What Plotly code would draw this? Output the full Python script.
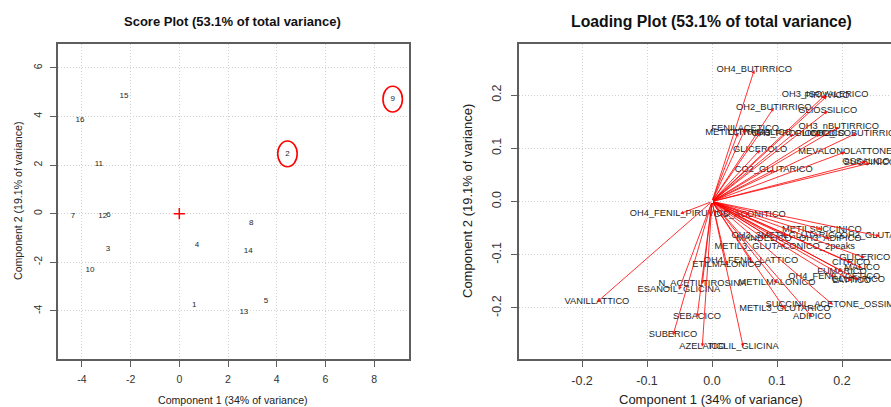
import plotly.graph_objects as go

# ---------------- data ----------------
score_labels = [str(i) for i in range(1, 17)]
score_pc1 = [0.61, 4.44, -2.93, 0.73, 3.56, -2.91, -4.37, 2.95, 8.76, -3.67, -3.30, -3.14, 2.65, 2.83, -2.27, -4.08]
score_pc2 = [-3.74, 2.46, -1.45, -1.28, -3.60, -0.06, -0.10, -0.38, 4.71, -2.30, 2.05, -0.11, -4.03, -1.55, 4.84, 3.85]
highlighted = ["2", "9"]

load_names = [
    "OH4_BUTIRRICO", "OH3_ISOVALERICO", "PIRUVICO", "OH2_BUTIRRICO", "GLIOSSILICO",
    "OH3_nBUTIRRICO", "FENILACETICO", "METILCITRICO", "CITRAMALICO", "OH3_PROPIONICO",
    "GLICOLICO", "OH2_ISOBUTIRRICO", "GLICEROLO", "MEVALONOLATTONE", "SUCCINICO",
    "OSSALICO", "CO2_GLUTARICO", "OH4_FENIL_PIRUVICO", "CIS_ACONITICO", "METILSUCCINICO",
    "OH3_3METILGLUTARICO", "MANDELICO", "OH3_ADIPICO", "OH2_GLUTARICO",
    "METIL3_GLUTACONICO_2peaks", "OH4_FENIL_LATTICO", "ETILMALONICO", "GLICERICO",
    "CITRICO", "MALICO", "FUMARICO", "OH4_FENILACETICO", "GLUTARICO", "LATTICO",
    "METILMALONICO", "N_ACETILTIROSINA", "ESANOIL_GLICINA", "VANILLATTICO",
    "SUCCINIL_ACETONE_OSSIMA", "METIL3_GLUTARICO", "ADIPICO", "SEBACICO", "SUBERICO",
    "AZELAICO", "TIGLIL_GLICINA",
]
load_pc1 = [
    0.065, 0.174, 0.177, 0.095, 0.178,
    0.195, 0.051, 0.040, 0.074, 0.125,
    0.166, 0.222, 0.074, 0.205, 0.243,
    0.237, 0.095, -0.049, 0.058, 0.169,
    0.115, 0.080, 0.182, 0.258,
    0.112, 0.060, 0.023, 0.235,
    0.214, 0.231, 0.200, 0.188, 0.225, 0.215,
    0.100, -0.015, -0.051, -0.177,
    0.186, 0.112, 0.154, -0.023, -0.060,
    -0.015, 0.048,
]
load_pc2 = [
    0.247, 0.200, 0.198, 0.176, 0.170,
    0.140, 0.136, 0.129, 0.129, 0.127,
    0.127, 0.128, 0.097, 0.093, 0.072,
    0.075, 0.059, -0.023, -0.025, -0.052,
    -0.065, -0.070, -0.070, -0.065,
    -0.085, -0.112, -0.119, -0.106,
    -0.115, -0.125, -0.131, -0.142, -0.147, -0.149,
    -0.153, -0.155, -0.166, -0.189,
    -0.194, -0.202, -0.217, -0.217, -0.251,
    -0.273, -0.273,
]

score_xticks = [-4, -2, 0, 2, 4, 6, 8]
score_yticks = [-4, -2, 0, 2, 4, 6]
load_xticks = [-0.2, -0.1, 0.0, 0.1, 0.2]
load_yticks = [-0.2, -0.1, 0.0, 0.1, 0.2]

FONT = "Liberation Sans, Arial, Helvetica, sans-serif"
W, H = 891, 407
TXT = "#1e1e1e"


def px_x(p):
    return p / W


def px_y(p):
    return 1 - p / H


fig = go.Figure()

# score plot labels
fig.add_trace(go.Scatter(
    x=score_pc1, y=score_pc2, text=score_labels, mode="text",
    textposition="middle center", textfont=dict(family=FONT, size=8, color=TXT),
    xaxis="x", yaxis="y", showlegend=False, hoverinfo="skip"))
# origin cross
fig.add_trace(go.Scatter(
    x=[0], y=[0], mode="markers", xaxis="x", yaxis="y", showlegend=False,
    marker=dict(symbol="cross-thin", size=8, line=dict(color="red", width=1.5))))

# loading labels
fig.add_trace(go.Scatter(
    x=load_pc1, y=load_pc2, text=load_names, mode="text",
    textposition="middle center", textfont=dict(family=FONT, size=9.3, color=TXT),
    xaxis="x2", yaxis="y2", showlegend=False, hoverinfo="skip", cliponaxis=False))

shapes = []
for lab in highlighted:
    i = score_labels.index(lab)
    cx, cy = score_pc1[i], score_pc2[i]
    shapes.append(dict(type="circle", xref="x", yref="y",
                       x0=cx - 0.40, x1=cx + 0.40, y0=cy - 0.53, y1=cy + 0.53,
                       line=dict(color="red", width=1.6)))

annotations = []
for xx, yy in zip(load_pc1, load_pc2):
    annotations.append(dict(
        x=xx, y=yy, ax=0, ay=0, xref="x2", yref="y2", axref="x2", ayref="y2",
        text="", showarrow=True, arrowhead=2, arrowsize=0.8, arrowwidth=0.9,
        arrowcolor="rgba(255,0,0,0.9)", standoff=0, startstandoff=0))


def ann(text, x, y, size, bold=False, angle=0):
    annotations.append(dict(
        text=f"<b>{text}</b>" if bold else text, x=px_x(x), y=px_y(y),
        xref="paper", yref="paper", showarrow=False, xanchor="center",
        yanchor="middle", textangle=angle,
        font=dict(family=FONT, size=size, color="#111" if bold else "#222")))


ann("Score Plot (53.1% of total variance)", 233, 21, 13, bold=True)
ann("Loading Plot (53.1% of total variance)", 711, 21, 15.8, bold=True)
ann("Component 1 (34% of variance)", 233, 400, 10.6)
ann("Component 1 (34% of variance)", 711, 399.5, 13)
ann("Component 2 (19.1% of variance)", 18, 201, 10.6, angle=-90)
ann("Component 2 (19.1% of variance)", 468, 201, 13, angle=-90)

axis_common = dict(
    showgrid=True, gridcolor="#d0d0d0", griddash="1px,2px", gridwidth=1,
    zeroline=False, showline=True, linecolor="#5e5e5e", linewidth=1.8,
    ticks="outside", tickcolor="#5e5e5e", tickwidth=1, ticklen=6,
)


def fmt(v, d):
    return f"{v:.{d}f}"


fig.update_layout(
    width=W, height=H, margin=dict(l=0, r=0, t=0, b=0),
    paper_bgcolor="white", plot_bgcolor="white", showlegend=False,
    shapes=shapes, annotations=annotations,
    xaxis=dict(domain=[px_x(58), px_x(409)], range=[-4.98, 9.43], anchor="y",
               tickvals=score_xticks, ticktext=[fmt(v, 0) for v in score_xticks],
               tickfont=dict(family=FONT, size=10.5, color="#333"), mirror=True,
               ticklabelstandoff=3, **axis_common),
    yaxis=dict(domain=[px_y(359), px_y(44)], range=[-5.98, 6.98], anchor="x",
               tickvals=score_yticks, ticktext=[fmt(v, 0) for v in score_yticks],
               tickangle=-90, tickfont=dict(family=FONT, size=10.5, color="#333"),
               mirror=True, ticklabelstandoff=4, **axis_common),
    xaxis2=dict(domain=[px_x(519), 1.0], range=[-0.297, 0.2754], anchor="y2",
                tickvals=load_xticks, ticktext=[fmt(v, 1) for v in load_xticks],
                tickfont=dict(family=FONT, size=12.5, color="#333"), mirror=True,
                ticklabelstandoff=3, **axis_common),
    yaxis2=dict(domain=[px_y(359), px_y(44)], range=[-0.2958, 0.2958], anchor="x2",
                tickvals=load_yticks, ticktext=[fmt(v, 1) for v in load_yticks],
                tickangle=-90, tickfont=dict(family=FONT, size=12.5, color="#333"),
                mirror=False, ticklabelstandoff=5, **axis_common),
)

fig.write_html(
    "out.html",
    config={"displayModeBar": False},
    post_script="document.body.style.margin='0';document.body.style.overflow='hidden';",
)
